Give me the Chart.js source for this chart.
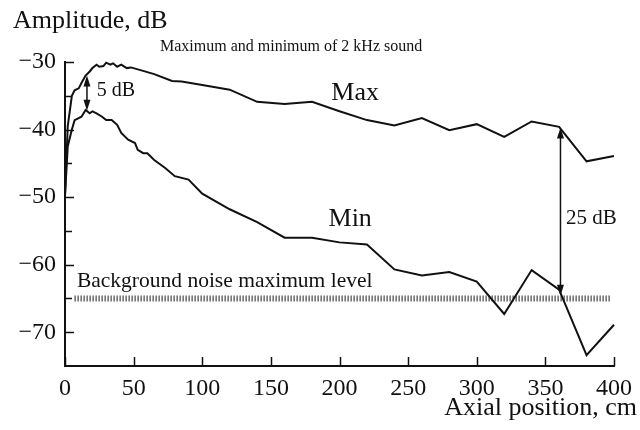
<!DOCTYPE html>
<html>
<head>
<meta charset="utf-8">
<style>
  html, body { margin: 0; padding: 0; background: #fff; }
</style>
<script src="https://cdn.jsdelivr.net/npm/chart.js@4.4.0/dist/chart.umd.min.js"></script>
</head>
<body>
<canvas id="myChart" width="640" height="430"></canvas>
<script>
// data
const maxX = [0, 2, 5, 7, 10, 12, 15, 18, 20, 23, 25, 28, 30, 33, 35, 38, 41, 45, 48, 55, 65, 78, 85, 100, 120, 140, 160, 180, 200, 220, 240, 260, 280, 300, 320, 340, 360, 380, 400]
const maxY = [-49.6, -39.5, -35, -34.2, -33.9, -33.1, -32, -31.4, -30.9, -30.4, -30.7, -30.6, -30.1, -30.4, -30.2, -30.7, -30.4, -30.9, -30.8, -31.2, -31.8, -32.8, -32.9, -33.4, -34.1, -35.9, -36.2, -35.9, -37.3, -38.6, -39.4, -38.3, -40.1, -39.2, -41.1, -38.8, -39.6, -44.7, -43.9]

const minX = [0, 2, 5, 7, 10, 12, 15, 18, 20, 23, 27, 30, 34, 38, 41, 46, 51, 53, 57, 60, 65, 73, 80, 90, 100, 120, 140, 160, 180, 200, 220, 240, 260, 280, 300, 320, 340, 360, 380, 400]
const minY = [-49.8, -42.5, -40, -38.6, -38.3, -38.1, -37.1, -37.6, -37.3, -37.6, -38.1, -38.6, -38.6, -39.3, -40.5, -41.5, -42, -43, -43.5, -43.5, -44.5, -45.7, -46.9, -47.4, -49.5, -51.8, -53.7, -56, -56, -56.7, -57, -60.7, -61.6, -61.1, -62.5, -67.3, -60.8, -63.7, -73.4, -68.9]

// background noise maximum level
const noiseX = [7, 398]
const noiseY = [-65, -65]

// axis ticks
const xTicks = [0, 50, 100, 150, 200, 250, 300, 350, 400]
const yTicks = [-30, -40, -50, -60, -70]
const yMinorTicks = [-35, -45, -55, -65]

// arrows: [x, top, bottom]
const arrow5 = [16, -32, -37.2]
const arrow25 = [361, -39.7, -64.6]

const serif = "'Liberation Serif', 'Times New Roman', serif"
const ink = '#111'

function pts(xs, ys){
    return xs.map((x, i) => ({x: x, y: ys[i]}))
}

function arrow(ctx, x, y1, y2){
    ctx.beginPath()
    ctx.moveTo(x, y1 + 6)
    ctx.lineTo(x, y2 - 6)
    ctx.stroke()
    ctx.beginPath()
    ctx.moveTo(x, y1)
    ctx.lineTo(x - 3.5, y1 + 11)
    ctx.lineTo(x + 3.5, y1 + 11)
    ctx.closePath()
    ctx.fill()
    ctx.beginPath()
    ctx.moveTo(x, y2)
    ctx.lineTo(x - 3.5, y2 - 11)
    ctx.lineTo(x + 3.5, y2 - 11)
    ctx.closePath()
    ctx.fill()
}

const extras = {
    id: 'extras',
    afterDraw(chart){
        const ctx = chart.ctx
        const xs = chart.scales.x
        const ys = chart.scales.y
        const left = xs.left
        const bottom = ys.bottom

        ctx.save()
        ctx.strokeStyle = ink
        ctx.fillStyle = ink

        // inward ticks
        ctx.lineWidth = 1.5
        ctx.beginPath()
        xTicks.forEach(v => {
            const px = Math.round(xs.getPixelForValue(v)) + 0.5
            ctx.moveTo(px, bottom)
            ctx.lineTo(px, bottom - 9)
        })
        yTicks.forEach(v => {
            const py = Math.round(ys.getPixelForValue(v)) + 0.5
            ctx.moveTo(left, py)
            ctx.lineTo(left + 9, py)
        })
        yMinorTicks.forEach(v => {
            const py = Math.round(ys.getPixelForValue(v)) + 0.5
            ctx.moveTo(left, py)
            ctx.lineTo(left + 7, py)
        })
        ctx.stroke()

        // arrows
        ctx.lineWidth = 1.5
        arrow(ctx, xs.getPixelForValue(arrow5[0]), ys.getPixelForValue(arrow5[1]), ys.getPixelForValue(arrow5[2]))
        arrow(ctx, xs.getPixelForValue(arrow25[0]), ys.getPixelForValue(arrow25[1]), ys.getPixelForValue(arrow25[2]))

        // texts
        ctx.textBaseline = 'middle'
        ctx.textAlign = 'left'
        ctx.font = '26px ' + serif
        ctx.fillText('Amplitude, dB', 13, 21)
        ctx.textAlign = 'right'
        ctx.fillText('Axial position, cm', 637, 408)

        ctx.textAlign = 'left'
        ctx.font = '16px ' + serif
        ctx.fillText('Maximum and minimum of 2 kHz sound', 160, 47)

        ctx.font = '26px ' + serif
        ctx.fillText('Max', xs.getPixelForValue(194), ys.getPixelForValue(-34.6))
        ctx.fillText('Min', xs.getPixelForValue(192), ys.getPixelForValue(-53.2))

        ctx.font = '20px ' + serif
        ctx.fillText('5 dB', xs.getPixelForValue(23.2), ys.getPixelForValue(-34.3))
        ctx.font = '21px ' + serif
        ctx.fillText('25 dB', xs.getPixelForValue(365), ys.getPixelForValue(-53.1))
        ctx.font = '21.5px ' + serif
        ctx.fillText('Background noise maximum level', xs.getPixelForValue(8.7), ys.getPixelForValue(-62.4))

        ctx.restore()
    }
}

const lineStyle = {
    borderColor: ink,
    borderWidth: 2,
    pointRadius: 0,
    tension: 0,
    fill: false,
    clip: false
}

new Chart(document.getElementById('myChart'), {
    type: 'line',
    data: {
        datasets: [
            Object.assign({label: 'Max', data: pts(maxX, maxY)}, lineStyle),
            Object.assign({label: 'Min', data: pts(minX, minY)}, lineStyle),
            {
                label: 'Background noise maximum level',
                data: pts(noiseX, noiseY),
                borderColor: '#222',
                borderWidth: 6,
                borderDash: [1, 2],
                borderCapStyle: 'butt',
                pointRadius: 0,
                fill: false
            }
        ]
    },
    options: {
        responsive: false,
        animation: false,
        layout: { padding: { top: 62, right: 24, left: 0, bottom: 0 } },
        plugins: {
            legend: { display: false },
            tooltip: { enabled: false },
            title: { display: false }
        },
        scales: {
            x: {
                type: 'linear',
                min: 0,
                max: 400,
                grid: { display: false, drawTicks: false },
                border: { display: true, color: ink, width: 2 },
                afterBuildTicks: s => { s.ticks = xTicks.map(v => ({value: v})) },
                afterFit: s => { s.height = 64 },
                ticks: {
                    color: ink,
                    padding: 8,
                    maxRotation: 0,
                    font: { family: serif, size: 24 }
                }
            },
            y: {
                type: 'linear',
                min: -75,
                max: -30,
                grid: { display: false, drawTicks: false },
                border: { display: true, color: ink, width: 2 },
                afterBuildTicks: s => { s.ticks = yTicks.map(v => ({value: v})) },
                afterFit: s => { s.width = 65 },
                ticks: {
                    color: ink,
                    padding: 9,
                    font: { family: serif, size: 24 },
                    callback: v => '\u2212' + Math.abs(v)
                }
            }
        }
    },
    plugins: [extras]
})
</script>
</body>
</html>
